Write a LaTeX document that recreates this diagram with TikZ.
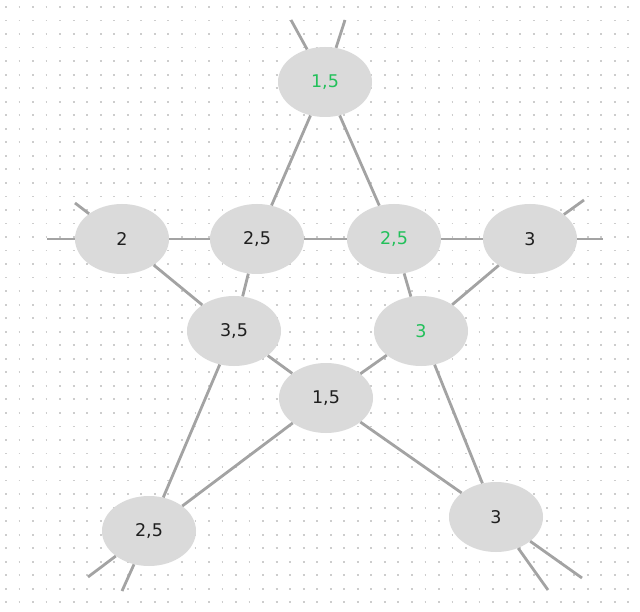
\documentclass[tikz,border=0pt]{standalone}
\usepackage{fontspec}
\setmainfont{DejaVu Sans}
\usetikzlibrary{shapes.geometric}
\definecolor{dotgray}{RGB}{205,205,205}
\definecolor{linegray}{RGB}{163,163,163}
\definecolor{spotgray}{RGB}{218,218,218}
\definecolor{hitgreen}{RGB}{34,192,90}
\begin{document}
\begin{tikzpicture}[x=1pt,y=-1pt,
  spot/.style={ellipse,fill=spotgray,minimum width=94pt,minimum height=70pt,inner sep=0pt,font=\fontsize{17.5}{20}\selectfont,text=black!88},
  hit/.style={spot,text=hitgreen},
  edge/.style={linegray,line width=2.8pt}]
\useasboundingbox (0,0) rectangle (640,612);
\fill[white] (0,0) rectangle (640,612);
\foreach \k in {0,...,44} \draw[dotgray,line width=1.8pt,dash pattern=on 1.8pt off 11.73pt] (5.1,{7+13.53*\k}) -- (640,{7+13.53*\k});% dotted grid, one dashed row per line of dots
\node[hit] (t) at (325,82) {1,5};% top point
\node[spot] (l) at (122,239) {2};% left point
\node[spot] (ml) at (257,239) {2,5};
\node[hit] (mr) at (394,239) {2,5};
\node[spot] (r) at (530,239) {3};% right point
\node[spot] (il) at (234,331) {3,5};
\node[hit] (ir) at (421,331) {3};
\node[spot] (c) at (326,398) {1,5};% inner bottom
\node[spot] (bl) at (149,531) {2,5};% bottom left point
\node[spot] (br) at (496,517) {3};% bottom right point
\coordinate (t1) at (291,20);
\coordinate (t2) at (345,20);
\coordinate (l1) at (47,239);
\coordinate (l2) at (75,203);
\coordinate (r1) at (603,239);
\coordinate (r2) at (584,200);
\coordinate (bl1) at (88,577);
\coordinate (bl2) at (122,591);
\coordinate (br1) at (582,578);
\coordinate (br2) at (548,590);
\draw[edge] (t2) -- (t) -- (ml) -- (il) -- (bl) -- (bl2);% line top to bottom left
\draw[edge] (l1) -- (l) -- (ml) -- (mr) -- (r) -- (r1);% horizontal line
\draw[edge] (l2) -- (l) -- (il) -- (c) -- (br) -- (br1);% line left to bottom right
\draw[edge] (r2) -- (r) -- (ir) -- (c) -- (bl) -- (bl1);% line right to bottom left
\draw[edge] (t1) -- (t) -- (mr) -- (ir) -- (br) -- (br2);% line top to bottom right
\end{tikzpicture}
\end{document}
